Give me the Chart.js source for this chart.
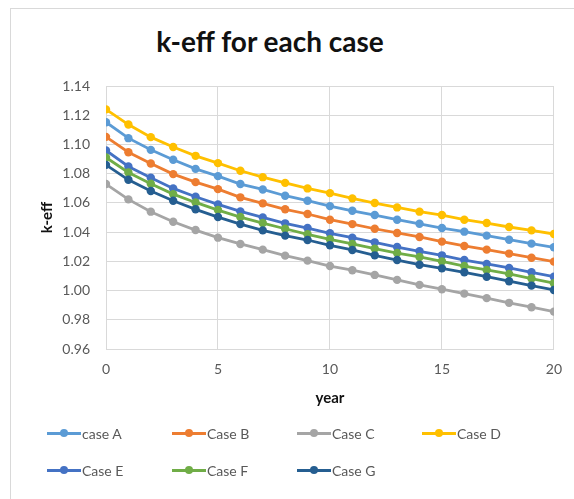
<!DOCTYPE html>
<html>
<head>
<meta charset="utf-8">
<script src="https://cdn.jsdelivr.net/npm/chart.js@4.4.0/dist/chart.umd.min.js"></script>
<style>
  html, body { margin:0; padding:0; background:#fff; }
  #wrap { position:relative; width:574px; height:499px; overflow:hidden; font-family: Lato, "Open Sans", sans-serif; }
  #frame { position:absolute; left:10px; top:8px; width:700px; height:700px; border:1px solid #d9d9d9; box-sizing:border-box; }
  #title { position:absolute; left:0; width:540px; top:24px; text-align:center; font-weight:bold; font-size:28px; color:#111; }
  canvas { position:absolute; left:0; top:0; }
  #legend { position:absolute; left:0; top:0; width:574px; height:499px; pointer-events:none; }
  .item { position:absolute; display:flex; align-items:center; height:18px; font-size:14px; color:#595959; white-space:nowrap; }
  .mark { position:relative; width:34px; height:18px; margin-right:1px; }
  .mark .ln { position:absolute; left:0; right:0; top:7.5px; height:3px; }
  .mark .dt { position:absolute; left:13px; top:5px; width:8px; height:8px; border-radius:50%; }
</style>
</head>
<body>
<div id="wrap">
  <div id="frame"></div>
  <div id="title">k-eff for each case</div>
  <canvas id="c" width="574" height="499"></canvas>
  <div id="legend"></div>
</div>
<script>
const years = [0,1,2,3,4,5,6,7,8,9,10,11,12,13,14,15,16,17,18,19,20];
const seriesNames = ["case A","Case B","Case C","Case D","Case E","Case F","Case G"];
const caseA = [1.1152,1.1043,1.0963,1.0895,1.0833,1.0783,1.0729,1.0692,1.0649,1.0615,1.0578,1.0546,1.0517,1.0485,1.0457,1.0428,1.0403,1.0376,1.0348,1.0321,1.0296];
const caseB = [1.1052,1.0947,1.0870,1.0797,1.0742,1.0694,1.0638,1.0597,1.0556,1.0524,1.0485,1.0455,1.0423,1.0394,1.0367,1.0335,1.0305,1.0280,1.0253,1.0225,1.0198];
const caseC = [1.0729,1.0624,1.0540,1.0471,1.0414,1.0362,1.0319,1.0280,1.0239,1.0205,1.0168,1.0139,1.0107,1.0073,1.0039,1.0009,0.9979,0.9948,0.9916,0.9886,0.9856];
const caseD = [1.1240,1.1136,1.1050,1.0983,1.0922,1.0872,1.0820,1.0776,1.0737,1.0699,1.0667,1.0631,1.0599,1.0569,1.0540,1.0517,1.0485,1.0462,1.0435,1.0412,1.0387];
const caseE = [1.0959,1.0849,1.0772,1.0699,1.0642,1.0590,1.0542,1.0501,1.0460,1.0428,1.0392,1.0362,1.0330,1.0298,1.0269,1.0241,1.0209,1.0182,1.0155,1.0125,1.0095];
const caseF = [1.0911,1.0808,1.0731,1.0660,1.0603,1.0551,1.0503,1.0462,1.0423,1.0385,1.0351,1.0319,1.0287,1.0257,1.0230,1.0200,1.0168,1.0141,1.0114,1.0082,1.0050];
const caseG = [1.0860,1.0758,1.0681,1.0615,1.0556,1.0503,1.0455,1.0412,1.0376,1.0346,1.0310,1.0278,1.0241,1.0209,1.0177,1.0152,1.0125,1.0095,1.0064,1.0034,1.0004];
const seriesValues = [caseA, caseB, caseC, caseD, caseE, caseF, caseG];
const colors = ["#5B9BD5","#ED7D31","#A5A5A5","#FFC000","#4472C4","#70AD47","#255E91"];
const yTicks = [0.96,0.98,1.00,1.02,1.04,1.06,1.08,1.10,1.12,1.14];
const xTicks = [0,5,10,15,20];

const datasets = seriesValues.map((vals, i) => ({
  label: seriesNames[i],
  data: vals.map((v, j) => ({ x: years[j], y: v })),
  borderColor: colors[i],
  backgroundColor: colors[i],
  pointBackgroundColor: colors[i],
  pointBorderColor: colors[i],
  pointBorderWidth: 0,
  pointRadius: 4.2,
  borderWidth: 2.8,
  tension: 0,
  order: seriesValues.length - i
}));

const gridColor = "#d9d9d9";
const tickFont = { family: "Lato, 'Open Sans', sans-serif", size: 14 };

const chart = new Chart(document.getElementById('c'), {
  type: 'line',
  data: { datasets },
  options: {
    responsive: false,
    animation: false,
    devicePixelRatio: 1,
    layout: { padding: { left: 38, right: 17, top: 86, bottom: 88 } },
    plugins: { legend: { display: false }, title: { display: false }, tooltip: { enabled: false } },
    scales: {
      x: {
        type: 'linear', min: 0, max: 20,
        afterBuildTicks: s => { s.ticks = xTicks.map(v => ({ value: v })); },
        afterFit: s => { s.height = 62; },
        grid: { color: gridColor, drawTicks: false, lineWidth: 1 },
        border: { color: gridColor, width: 1 },
        ticks: { color: "#595959", font: tickFont, padding: 12, maxRotation: 0 },
        title: { display: true, text: 'year', color: '#111', font: { family: "Lato, 'Open Sans', sans-serif", size: 15, weight: 'bold' }, padding: { top: 4, bottom: 4 } }
      },
      y: {
        min: 0.96, max: 1.14,
        afterBuildTicks: s => { s.ticks = yTicks.map(v => ({ value: v })); },
        afterFit: s => { s.width = 68; },
        grid: { color: gridColor, drawTicks: false, lineWidth: 1 },
        border: { color: gridColor, width: 1 },
        ticks: { color: "#595959", font: tickFont, padding: 16, callback: v => Number(v).toFixed(2) },
        title: { display: true, text: 'k-eff', color: '#111', font: { family: "Lato, 'Open Sans', sans-serif", size: 15, weight: 'bold' }, padding: { top: 0, bottom: 0 } }
      }
    }
  }
});

// HTML legend built from chart datasets
const legendPos = [[47,424],[172,424],[297,424],[422,424],[47,461],[172,461],[297,461]];
const leg = document.getElementById('legend');
chart.data.datasets.forEach((ds, i) => {
  const it = document.createElement('div');
  it.className = 'item';
  it.style.left = legendPos[i][0] + 'px';
  it.style.top = legendPos[i][1] + 'px';
  const mk = document.createElement('span');
  mk.className = 'mark';
  mk.innerHTML = '<span class="ln" style="background:' + ds.borderColor + '"></span><span class="dt" style="background:' + ds.borderColor + '"></span>';
  const tx = document.createElement('span');
  tx.textContent = ds.label;
  it.appendChild(mk); it.appendChild(tx);
  leg.appendChild(it);
});
</script>
</body>
</html>
